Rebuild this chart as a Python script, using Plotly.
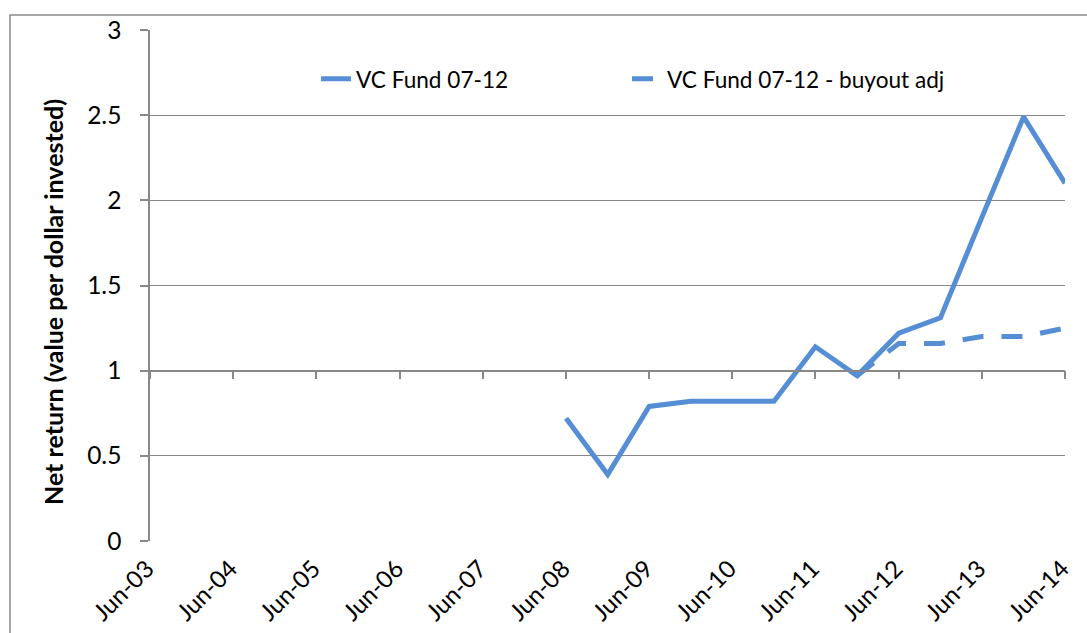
import plotly.graph_objects as go

# ---- data ----
dates = ["2008-06-01", "2008-12-01", "2009-06-01", "2009-12-01", "2010-06-01",
         "2010-12-01", "2011-06-01", "2011-12-01", "2012-06-01", "2012-12-01",
         "2013-06-01", "2013-12-01", "2014-06-01"]
vc_fund = [0.72, 0.39, 0.79, 0.82, 0.82, 0.82, 1.14, 0.97, 1.22, 1.31, 1.90, 2.49, 2.10]

adj_dates = ["2011-12-01", "2012-06-01", "2012-12-01", "2013-06-01", "2013-12-01", "2014-06-01"]
vc_adj = [0.97, 1.16, 1.16, 1.20, 1.20, 1.25]

tick_dates = ["2003-06-01", "2004-06-01", "2005-06-01", "2006-06-01", "2007-06-01",
              "2008-06-01", "2009-06-01", "2010-06-01", "2011-06-01", "2012-06-01",
              "2013-06-01", "2014-06-01"]
tick_labels = ["Jun-03", "Jun-04", "Jun-05", "Jun-06", "Jun-07", "Jun-08",
               "Jun-09", "Jun-10", "Jun-11", "Jun-12", "Jun-13", "Jun-14"]

series_names = ["VC Fund 07-12", "VC Fund 07-12 - buyout adj"]
y_title = "Net return (value per dollar invested)"

# ---- style ----
LINE = "#558ED5"
GRID = "#888888"
FONT = "Lato, Open Sans, sans-serif"
W, H = 1087, 633
ML, MR, MT, MB = 150, 22, 30, 92
PW, PH = W - ML - MR, H - MT - MB


def px_x(p):
    return (p - ML) / PW


def px_y(p):
    return (H - MB - p) / PH


fig = go.Figure()
fig.add_trace(go.Scatter(x=dates, y=vc_fund, name=series_names[0], mode="lines",
                         line=dict(color=LINE, width=5), legend="legend"))
fig.add_trace(go.Scatter(x=adj_dates, y=vc_adj, name=series_names[1], mode="lines",
                         line=dict(color=LINE, width=5, dash="21px,18px"),
                         xaxis="x2", legend="legend2"))

x_range = [tick_dates[0], tick_dates[-1]]
leg_common = dict(orientation="h", xanchor="left", yanchor="middle",
                  font=dict(size=22.6), bgcolor="rgba(0,0,0,0)")

fig.update_layout(
    width=W, height=H,
    margin=dict(l=ML, r=MR, t=MT, b=MB, autoexpand=False),
    paper_bgcolor="white", plot_bgcolor="white",
    font=dict(family=FONT, size=23, color="#000000"),
    showlegend=True,
    legend=dict(x=px_x(316), y=px_y(79), **leg_common),
    legend2=dict(x=px_x(627), y=px_y(79), **leg_common),
    xaxis=dict(type="date", range=x_range, tickvals=tick_dates, ticktext=tick_labels,
               tickangle=-45, showgrid=False, zeroline=False, showline=False,
               ticks="", tickfont=dict(size=24), ticklabelstandoff=8,
               ticklabelshift=-3, automargin=False),
    xaxis2=dict(type="date", range=x_range, tickvals=tick_dates, overlaying="x",
                anchor="free", position=1 / 3, side="bottom",
                showticklabels=False, showgrid=False, zeroline=False,
                showline=True, linecolor=GRID, linewidth=1.5,
                ticks="outside", ticklen=8, tickcolor=GRID, tickwidth=1.5,
                automargin=False),
    yaxis=dict(range=[0, 3], dtick=0.5, tick0=0, showgrid=True, gridcolor=GRID,
               gridwidth=1.3, zeroline=False, showline=True, linecolor=GRID,
               linewidth=1.5, ticks="outside", ticklen=8, tickcolor=GRID,
               tickwidth=1.5, tickfont=dict(size=24.5), ticklabelstandoff=14,
               automargin=False),
    annotations=[dict(text="<b>" + y_title + "</b>", textangle=-90,
                      xref="paper", yref="paper", x=px_x(53), y=px_y(302),
                      xanchor="center", yanchor="middle", showarrow=False,
                      font=dict(size=25))],
    shapes=[dict(type="rect", xref="paper", yref="paper",
                 x0=px_x(10), x1=1.2, y0=-0.3, y1=px_y(15),
                 line=dict(color="#8a8a8a", width=1.5), layer="below")],
)

fig.write_html("out.html", config={"displayModeBar": False},
               post_script="document.body.style.margin='0';document.body.style.overflow='hidden';")
